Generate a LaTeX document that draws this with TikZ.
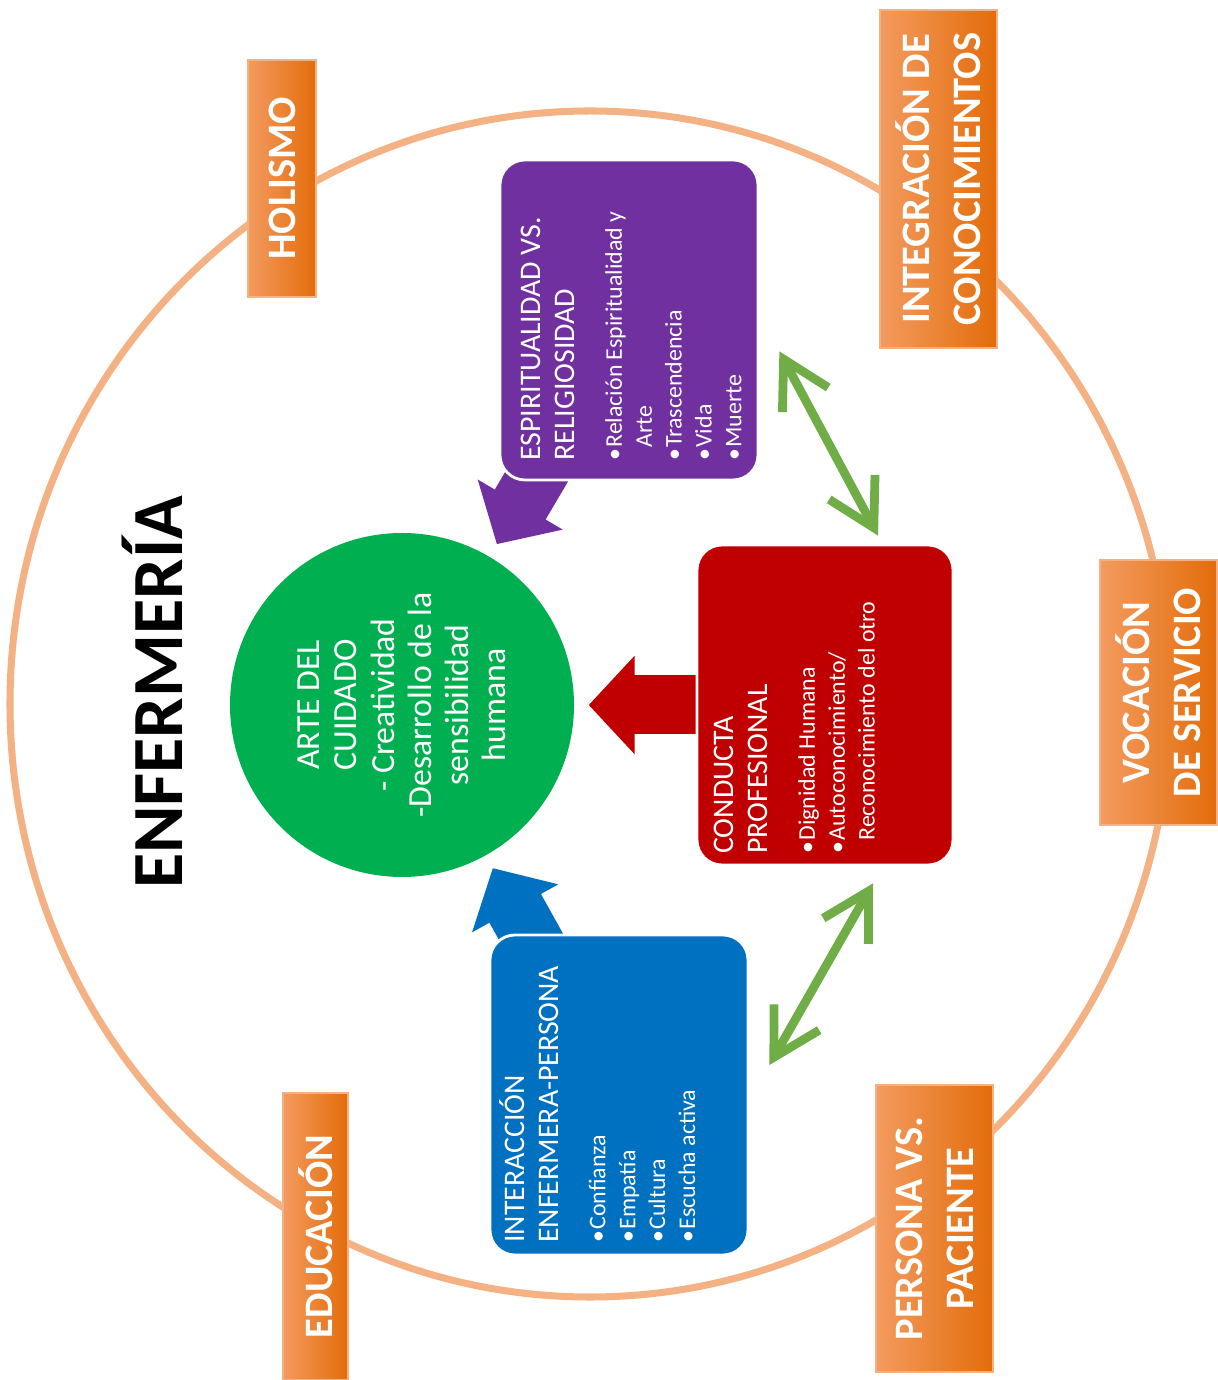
\documentclass[tikz,border=0pt]{standalone}
\usepackage{fontspec}
\setmainfont{Carlito}
\usetikzlibrary{arrows.meta,backgrounds}
\definecolor{anillo}{HTML}{F4B183}
\definecolor{naranjaA}{HTML}{F39B5F}
\definecolor{naranjaB}{HTML}{E36C0A}
\definecolor{morado}{HTML}{7030A0}
\definecolor{rojo}{HTML}{C00000}
\definecolor{azul}{HTML}{0070C0}
\definecolor{verde}{HTML}{00B050}
\definecolor{verdeclaro}{HTML}{70AD47}
\newcommand{\encab}{\fontsize{8.5}{9.7}\selectfont}
\newcommand{\vineta}{\fontsize{6.8}{8.5}\selectfont}
\newcommand{\punto}[1]{{\vineta\makebox[0.55em][l]{\textbullet}#1}}
\newcommand{\sigue}[1]{{\vineta\hspace*{0.55em}#1}}
\begin{document}
\begin{tikzpicture}[
    etiqueta/.style={rotate=90, draw=anillo, line width=0.5pt, left color=naranjaA, right color=naranjaB,
        text=white, font=\fontsize{11.5}{14.5}\selectfont\bfseries, align=center, inner sep=0pt},
    caja/.style={draw=white, line width=0.8pt, rounded corners=2.5mm, minimum width=2.58cm, minimum height=3.2cm},
    textobox/.style={rotate=90, anchor=north west, inner sep=0pt, align=left, text=white, font=\encab},
    bloque/.style={line width=5.9mm, -{Triangle[width=9.6mm,length=4.6mm]}, shorten >=1.4mm, shorten <=-4mm},
    doble/.style={verdeclaro, line width=2.5pt,
        {Straight Barb[length=4.6mm,width=5.2mm]}-{Straight Barb[length=4.6mm,width=5.2mm]}}]
    \useasboundingbox (0,0) rectangle (12.17,13.80);
    \draw[anillo, line width=2pt] (5.90,6.76) ellipse [x radius=5.80, y radius=5.93];

    \node[rotate=90, font=\fontsize{20.5}{24}\selectfont\bfseries] (titulo) at (1.525,6.875) {ENFERMERÍA};

    \node[etiqueta, minimum width=2.37cm, minimum height=0.68cm] (holismo) at (2.82,12.015) {HOLISMO};
    \node[etiqueta, minimum width=3.38cm, minimum height=1.17cm] (integra) at (9.385,12.01) {INTEGRACIÓN DE\\CONOCIMIENTOS};
    \node[etiqueta, minimum width=2.65cm, minimum height=1.17cm] (vocacion) at (11.585,6.875) {VOCACIÓN\\DE SERVICIO};
    \node[etiqueta, minimum width=2.87cm, minimum height=1.17cm] (persona) at (9.345,1.515) {PERSONA VS.\\PACIENTE};
    \node[etiqueta, minimum width=2.87cm, minimum height=0.65cm] (educa) at (3.155,1.435) {EDUCACIÓN};

    \node[circle, fill=verde, minimum size=3.44cm, inner sep=0pt, rotate=90, text=white, align=center,
        font=\fontsize{9.6}{10.6}\selectfont] (arte) at (4.02,6.75)
        {ARTE DEL\\CUIDADO\\- Creatividad\\-Desarrollo de la\\sensibilidad\\humana};

    \node[caja, fill=morado] (espi) at (6.29,10.60) {};
    \node[caja, fill=rojo, minimum width=2.56cm] (cond) at (8.25,6.75) {};
    \node[caja, fill=azul] (inter) at (6.19,2.85) {};

    \node[textobox] (espitxt) at ([shift={(0.22,0.20)}]espi.south west)
        {ESPIRITUALIDAD VS.\\RELIGIOSIDAD\\[3.7pt]\punto{Relación Espiritualidad y}\\[-1.2pt]\sigue{Arte}\\[-1.2pt]
        \punto{Trascendencia}\\[-1.2pt]\punto{Vida}\\[-1.2pt]\punto{Muerte}};
    \node[textobox] (condtxt) at ([shift={(0.18,0.12)}]cond.south west)
        {CONDUCTA\\PROFESIONAL\\[3.7pt]\punto{Dignidad Humana}\\[-1.2pt]\punto{Autoconocimiento/}\\[-1.2pt]
        \sigue{Reconocimiento del otro}};
    \node[textobox] (intertxt) at ([shift={(0.10,0.13)}]inter.south west)
        {INTERACCIÓN\\ENFERMERA-PERSONA\\[3.7pt]\punto{Confianza}\\[-1.2pt]\punto{Empatía}\\[-1.2pt]
        \punto{Cultura}\\[-1.2pt]\punto{Escucha activa}};

    \begin{scope}[on background layer]
        \draw[bloque, morado] (espi) -- (arte);
        \draw[bloque, rojo] (cond) -- (arte);
        \draw[bloque, azul] (inter) -- (arte);
    \end{scope}

    \draw[doble] ([shift={(0.20,1.30)}]espi.south east) -- ([shift={(0.53,0.08)}]cond.north);
    \draw[doble] ([shift={(0.48,-0.17)}]cond.south) -- ([shift={(0.20,0.30)}]inter.east);
\end{tikzpicture}
\end{document}
